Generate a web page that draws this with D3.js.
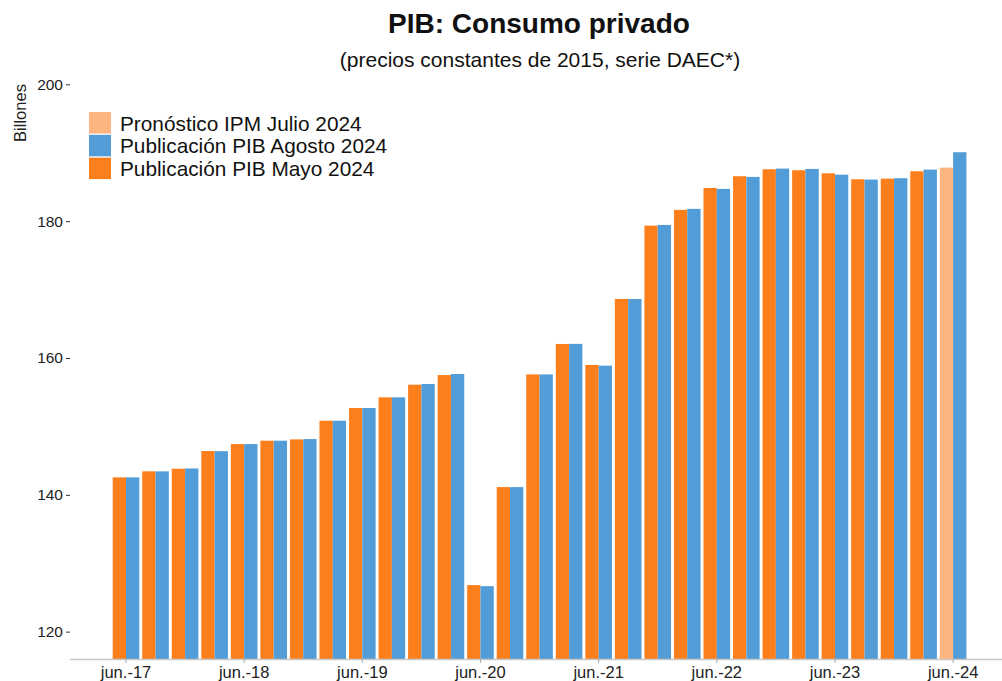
<!DOCTYPE html>
<html>
<head>
<meta charset="utf-8">
<script src="https://cdn.jsdelivr.net/npm/d3@7"></script>
<style>
  body { margin: 0; background: #fff; }
  svg { display: block; font-family: "Liberation Sans", Arial, sans-serif; }
</style>
</head>
<body>
<svg id="chart" width="1002" height="681"></svg>
<script>
// ---- data ----
const quarters = ["jun.-17","sep.-17","dic.-17","mar.-18","jun.-18","sep.-18","dic.-18","mar.-19",
  "jun.-19","sep.-19","dic.-19","mar.-20","jun.-20","sep.-20","dic.-20","mar.-21",
  "jun.-21","sep.-21","dic.-21","mar.-22","jun.-22","sep.-22","dic.-22","mar.-23",
  "jun.-23","sep.-23","dic.-23","mar.-24","jun.-24"];
const publicacionMayo = [142.55,143.43,143.81,146.40,147.42,147.91,148.10,150.83,
  152.69,154.25,156.10,157.51,126.80,141.13,157.60,162.05,
  158.98,168.63,179.35,181.65,184.86,186.57,187.59,187.45,
  187.00,186.13,186.22,187.30,null];
const publicacionAgosto = [142.55,143.43,143.85,146.38,147.42,147.91,148.15,150.83,
  152.69,154.25,156.20,157.66,126.65,141.13,157.60,162.07,
  158.88,168.63,179.45,181.80,184.72,186.47,187.69,187.64,
  186.80,186.08,186.28,187.54,190.08];
const pronosticoJulio = [null,null,null,null,null,null,null,null,null,null,null,null,null,null,null,null,
  null,null,null,null,null,null,null,null,null,null,null,null,187.83];
const xTickLabels = ["jun.-17","jun.-18","jun.-19","jun.-20","jun.-21","jun.-22","jun.-23","jun.-24"];
const yTicks = [120,140,160,180,200];
const legendLabels = ["Pronóstico IPM Julio 2024","Publicación PIB Agosto 2024","Publicación PIB Mayo 2024"];

// ---- styles ----
const cOrange = "#fd7f1c", cBlue = "#529dd7", cLight = "#fdb47f";
const legendColors = [cLight, cBlue, cOrange];

const svg = d3.select("#chart");
const panelLeft = 70, panelRight = 1002, panelTop = 57, panelBottom = 659;

const y = d3.scaleLinear().domain([116, 204]).range([panelBottom, panelTop]);
const step = 29.54;
const x0 = d3.scaleBand().domain(quarters)
  .range([126 - step/2, 126 - step/2 + step*quarters.length])
  .paddingInner(0.1).paddingOuter(0.05);
const x1 = d3.scaleBand().domain(["first","second"]).range([0, x0.bandwidth()]);

// build bar table
const bars = [];
quarters.forEach((q, i) => {
  if (publicacionMayo[i] != null) bars.push({q, slot:"first", v:publicacionMayo[i], c:cOrange});
  else if (pronosticoJulio[i] != null) bars.push({q, slot:"first", v:pronosticoJulio[i], c:cLight});
  if (publicacionAgosto[i] != null) bars.push({q, slot:"second", v:publicacionAgosto[i], c:cBlue});
});

svg.append("defs").append("clipPath").attr("id","clip")
  .append("rect").attr("x",panelLeft).attr("y",0).attr("width",panelRight-panelLeft).attr("height",panelBottom);

svg.append("g").attr("clip-path","url(#clip)")
  .selectAll("rect").data(bars).join("rect")
  .attr("x", d => x0(d.q) + x1(d.slot))
  .attr("width", x1.bandwidth())
  .attr("y", d => y(d.v))
  .attr("height", d => panelBottom - y(d.v))
  .attr("fill", d => d.c);

// x axis
svg.append("line").attr("x1",panelLeft).attr("x2",panelRight)
  .attr("y1",panelBottom+0.5).attr("y2",panelBottom+0.5)
  .attr("stroke","#c8c8c8").attr("stroke-width",1.5);
const xAxis = d3.axisBottom(x0).tickValues(xTickLabels).tickSize(4).tickPadding(3);
const gx = svg.append("g").attr("transform",`translate(0,${panelBottom})`).call(xAxis);
gx.select(".domain").remove();
gx.selectAll(".tick line").attr("stroke","#aaaaaa");
gx.selectAll(".tick text").attr("font-size","16.5px").attr("fill","#222")
  .attr("font-family","'Liberation Sans', Arial, sans-serif");

// y axis
const yAxis = d3.axisLeft(y).tickValues(yTicks).tickSize(4).tickPadding(3);
const gy = svg.append("g").attr("transform",`translate(${panelLeft},0)`).call(yAxis);
gy.select(".domain").remove();
gy.selectAll(".tick line").attr("stroke","#333");
gy.selectAll(".tick text").attr("font-size","15.5px").attr("fill","#222")
  .attr("font-family","'Liberation Sans', Arial, sans-serif");

// y label
svg.append("text").attr("transform","translate(26,113) rotate(-90)")
  .attr("text-anchor","middle").attr("font-size","16.5px").attr("fill","#222")
  .text("Billones");

// title
svg.append("text").attr("x",539).attr("y",33).attr("text-anchor","middle")
  .attr("font-size","28px").attr("font-weight","bold").attr("fill","#111")
  .text("PIB: Consumo privado");
svg.append("text").attr("x",540).attr("y",67).attr("text-anchor","middle")
  .attr("font-size","21px").attr("fill","#111")
  .text("(precios constantes de 2015, serie DAEC*)");

// legend
const lg = svg.append("g").attr("transform","translate(89,112)");
legendLabels.forEach((lab, i) => {
  const gy0 = i * 22.8;
  lg.append("rect").attr("x",0).attr("y",gy0).attr("width",22).attr("height",21.5)
    .attr("fill",legendColors[i]);
  lg.append("text").attr("x",31).attr("y",gy0+11).attr("dominant-baseline","central")
    .attr("font-size","20.8px").attr("fill","#111").text(lab);
});
</script>
</body>
</html>
